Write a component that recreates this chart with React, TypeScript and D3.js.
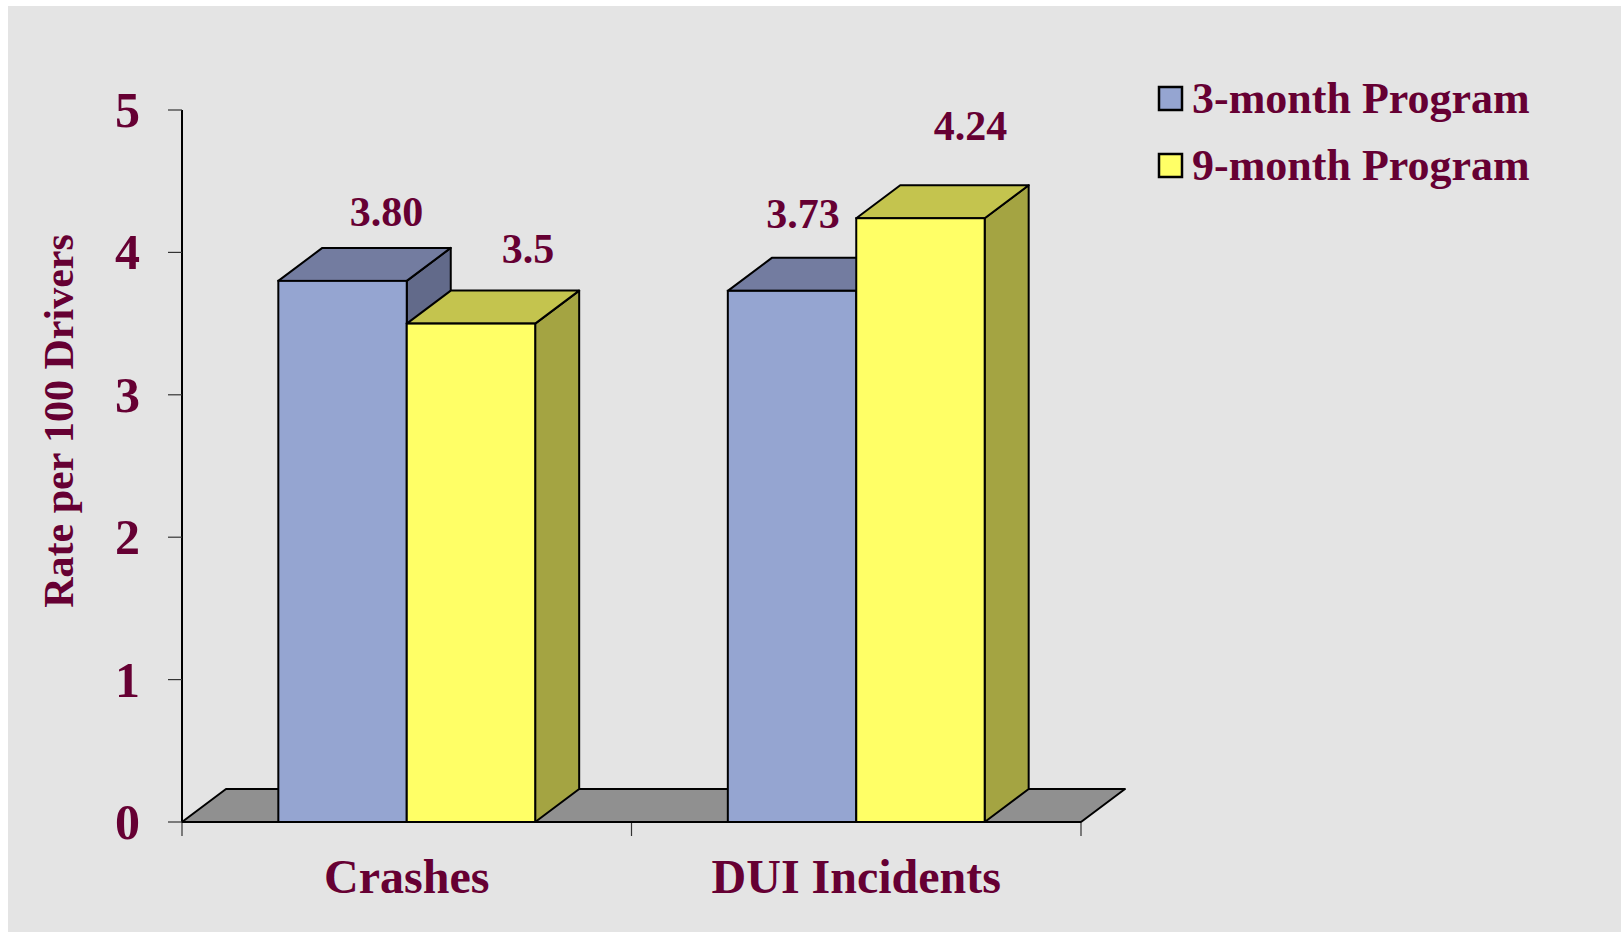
import * as d3 from "d3";

const categories = ["Crashes", "DUI Incidents"];
const seriesNames = ["3-month Program", "9-month Program"];
const threeMonth = [3.8, 3.73];
const nineMonth = [3.5, 4.24];
const valueLabels = [
  ["3.80", "3.73"],
  ["3.5", "4.24"],
];
const yTicks = [0, 1, 2, 3, 4, 5];

const W = 1621;
const H = 932;
const TEXT = "#660033";
const FONT = "'Liberation Serif', 'Times New Roman', serif";

// front / top / side shades for each series
const COLORS = [
  { front: "#95A5D1", top: "#737CA0", side: "#626A8A" },
  { front: "#FFFF66", top: "#C4C44E", side: "#A4A442" },
];

// depth of the 3d effect
const DX = 44;
const DY = -33;

// manual label tweaks (dx, extra lift) like the source slide
const LABEL_NUDGE = [
  [[0, 0], [-33, 8]],
  [[13, 6], [6, 23]],
];

export default function App() {
  const values = [threeMonth, nineMonth];

  const y = d3.scaleLinear().domain([0, 5]).range([822, 110]);
  const x = d3.scaleBand<string>().domain(categories).range([182, 1081]);
  const xs = d3
    .scaleBand<string>()
    .domain(seriesNames)
    .range([0, x.bandwidth()])
    .paddingInner(0)
    .paddingOuter(0.75);

  const y0 = y(0);
  const [xl, xr] = x.range();

  const bars: JSX.Element[] = [];
  categories.forEach((cat, ci) => {
    seriesNames.forEach((s, si) => {
      const v = values[si][ci];
      const x0 = (x(cat) ?? 0) + (xs(s) ?? 0);
      const x1 = x0 + xs.bandwidth();
      const yt = y(v);
      const c = COLORS[si];
      const top = `M${x0},${yt}L${x1},${yt}L${x1 + DX},${yt + DY}L${x0 + DX},${yt + DY}Z`;
      const side = `M${x1},${yt}L${x1 + DX},${yt + DY}L${x1 + DX},${y0 + DY}L${x1},${y0}Z`;
      bars.push(
        <g key={`${ci}-${si}`}>
          <path d={side} fill={c.side} stroke="#000" strokeWidth={2} strokeLinejoin="round" />
          <path d={top} fill={c.top} stroke="#000" strokeWidth={2} strokeLinejoin="round" />
          <rect x={x0} y={yt} width={x1 - x0} height={y0 - yt} fill={c.front} stroke="#000" strokeWidth={2} />
        </g>
      );
    });
  });

  const labels: JSX.Element[] = [];
  categories.forEach((cat, ci) => {
    seriesNames.forEach((s, si) => {
      const v = values[si][ci];
      const cx = (x(cat) ?? 0) + (xs(s) ?? 0) + xs.bandwidth() / 2 + DX;
      const [ndx, ndy] = LABEL_NUDGE[si][ci];
      labels.push(
        <text
          key={`l-${ci}-${si}`}
          x={cx + ndx}
          y={y(v) + DY - 22 - ndy}
          textAnchor="middle"
          fontSize={42}
          fontWeight="bold"
          fill={TEXT}
        >
          {valueLabels[si][ci]}
        </text>
      );
    });
  });

  return (
    <svg
      width={W}
      height={H}
      style={{ position: "absolute", left: 0, top: 0, background: "#fff" }}
      fontFamily={FONT}
    >
      <rect x={8} y={6} width={W - 8} height={H - 6} fill="#E4E4E4" />

      {/* floor */}
      <path
        d={`M${xl},${y0}L${xr},${y0}L${xr + DX},${y0 + DY}L${xl + DX},${y0 + DY}Z`}
        fill="#909090"
        stroke="#000"
        strokeWidth={2}
        strokeLinejoin="round"
      />

      {/* y axis */}
      <line x1={xl} x2={xl} y1={y(5)} y2={y0} stroke="#000" strokeWidth={2} />
      {yTicks.map((t) => (
        <g key={t}>
          <line x1={xl - 14} x2={xl} y1={y(t)} y2={y(t)} stroke="#333" strokeWidth={1.2} />
          <text
            x={140}
            y={y(t)}
            dy="0.34em"
            textAnchor="end"
            fontSize={50}
            fontWeight="bold"
            fill={TEXT}
          >
            {t}
          </text>
        </g>
      ))}

      {/* category ticks */}
      {[...categories.map((c) => x(c) ?? 0), xr].map((tx, i) => (
        <line key={i} x1={tx} x2={tx} y1={y0} y2={y0 + 14} stroke="#333" strokeWidth={1.2} />
      ))}
      <line x1={xl} x2={xr} y1={y0} y2={y0} stroke="#000" strokeWidth={2} />

      {bars}
      {labels}

      {categories.map((c) => (
        <text
          key={c}
          x={(x(c) ?? 0) + x.bandwidth() / 2}
          y={893}
          textAnchor="middle"
          fontSize={48}
          fontWeight="bold"
          fill={TEXT}
        >
          {c}
        </text>
      ))}

      <text
        transform="translate(73,421) rotate(-90)"
        textAnchor="middle"
        fontSize={42}
        fontWeight="bold"
        fill={TEXT}
      >
        Rate per 100 Drivers
      </text>

      {/* legend */}
      {seriesNames.map((s, i) => (
        <g key={s} transform={`translate(1159,${87 + i * 67})`}>
          <rect x={0} y={0} width={23} height={23} fill={COLORS[i].front} stroke="#000" strokeWidth={2.5} />
          <text x={33} y={26} fontSize={44} fontWeight="bold" fill={TEXT}>
            {s}
          </text>
        </g>
      ))}
    </svg>
  );
}
